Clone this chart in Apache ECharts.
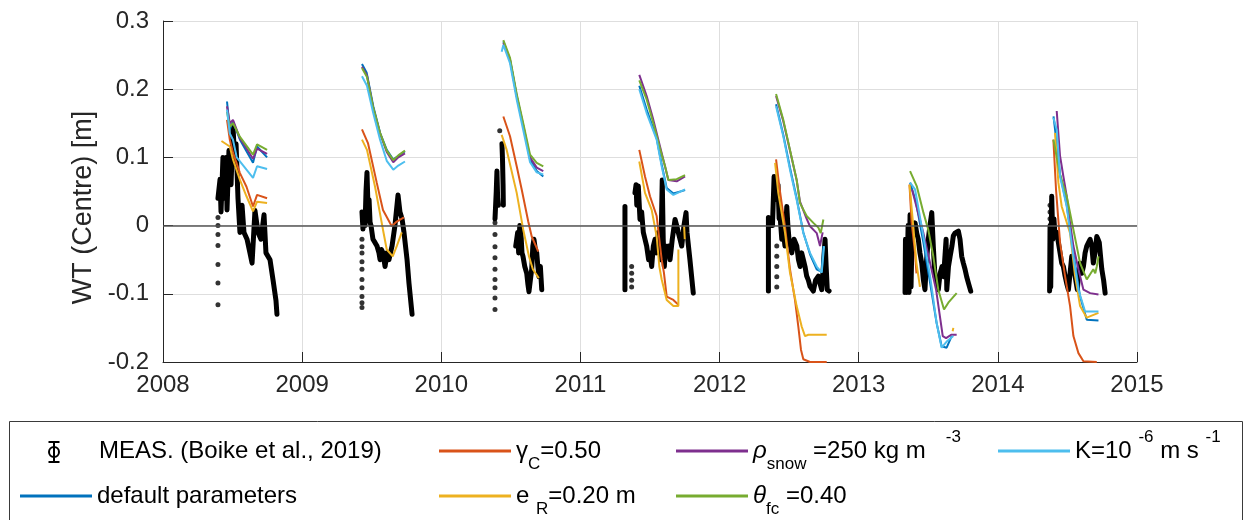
<!DOCTYPE html>
<html>
<head>
<meta charset="utf-8">
<script src="https://cdn.jsdelivr.net/npm/echarts@6/dist/echarts.min.js"></script>
<style>
  html, body { margin: 0; padding: 0; background: #fff; }
  #plot { width: 1247px; height: 520px; }
</style>
</head>
<body>
<div id="plot"></div>
<script>
// WT (Centre) per melt season, [decimal year, m]; each inner list is one continuous run
const measRuns = [
  [[2008.395,0.04],[2008.410,0.068],[2008.417,0.02],[2008.431,0.10],[2008.438,0.04],[2008.453,0.10],[2008.460,0.023],[2008.474,0.11],[2008.489,0.06],[2008.503,0.145],[2008.517,0.09],[2008.525,0.12],[2008.539,0.04],[2008.553,-0.01],[2008.568,0.03],[2008.582,-0.01],[2008.604,-0.02],[2008.625,-0.04],[2008.640,-0.055],[2008.661,0.022],[2008.683,-0.01],[2008.704,-0.02],[2008.726,0.016],[2008.740,-0.04],[2008.769,-0.05],[2008.791,-0.08],[2008.812,-0.11],[2008.819,-0.13]],
  [[2009.430,0.02],[2009.437,-0.005],[2009.445,0.02],[2009.452,0.0],[2009.459,0.05],[2009.466,0.078],[2009.473,0.03],[2009.481,0.038],[2009.488,0.005],[2009.495,0.0],[2009.509,-0.02],[2009.524,-0.025],[2009.538,-0.03],[2009.552,-0.04],[2009.560,-0.05],[2009.570,-0.035],[2009.581,-0.04],[2009.596,-0.06],[2009.610,-0.04],[2009.624,-0.05],[2009.646,-0.03],[2009.660,-0.01],[2009.667,0.0],[2009.689,0.045],[2009.703,0.02],[2009.718,0.01],[2009.732,-0.01],[2009.754,-0.05],[2009.768,-0.085],[2009.790,-0.13]],
  [[2010.386,0.01],[2010.395,0.05],[2010.400,0.08],[2010.405,0.04],[2010.410,0.03]],
  [[2010.436,0.12],[2010.440,0.097],[2010.444,0.06],[2010.446,0.03]],
  [[2010.535,-0.03],[2010.542,-0.02],[2010.549,-0.01],[2010.556,-0.04],[2010.564,0.0],[2010.571,-0.006],[2010.580,-0.04],[2010.587,-0.045],[2010.600,-0.06],[2010.614,-0.07],[2010.622,-0.085],[2010.630,-0.097],[2010.640,-0.08],[2010.650,-0.064],[2010.658,-0.03],[2010.666,-0.02],[2010.676,-0.035],[2010.686,-0.04],[2010.694,-0.06],[2010.702,-0.075],[2010.712,-0.06],[2010.722,-0.094]],
  [[2011.320,0.028],[2011.320,-0.094]],
  [[2011.392,0.048],[2011.400,0.06],[2011.405,0.03],[2011.416,0.058],[2011.428,0.009],[2011.440,0.02],[2011.452,-0.01],[2011.464,-0.02],[2011.476,-0.03],[2011.490,-0.05],[2011.500,-0.04],[2011.512,-0.06],[2011.524,-0.03],[2011.536,-0.02],[2011.548,-0.04],[2011.560,-0.01],[2011.570,-0.03],[2011.577,-0.05],[2011.582,0.0],[2011.588,0.067],[2011.595,-0.02],[2011.603,-0.06],[2011.612,-0.03],[2011.622,-0.04],[2011.634,-0.03],[2011.644,-0.05],[2011.660,-0.02],[2011.680,0.009],[2011.692,0.0],[2011.703,-0.01],[2011.716,-0.02],[2011.728,-0.03],[2011.744,0.0],[2011.759,0.019],[2011.766,-0.01],[2011.787,-0.05],[2011.811,-0.099]],
  [[2012.351,0.012],[2012.351,-0.096]],
  [[2012.380,0.0],[2012.392,0.072],[2012.400,0.05],[2012.411,0.038],[2012.420,0.06],[2012.428,0.01],[2012.435,0.014],[2012.447,-0.02],[2012.459,-0.01],[2012.470,-0.03],[2012.483,0.028],[2012.491,0.0],[2012.499,-0.02],[2012.510,-0.03],[2012.519,-0.04],[2012.535,-0.02],[2012.555,-0.03],[2012.567,-0.05],[2012.579,-0.06],[2012.590,-0.04],[2012.602,-0.05],[2012.614,-0.06],[2012.626,-0.074],[2012.638,-0.08],[2012.650,-0.089],[2012.662,-0.09],[2012.674,-0.096],[2012.690,-0.08],[2012.710,-0.074],[2012.722,-0.085],[2012.734,-0.094],[2012.746,-0.06],[2012.758,-0.02],[2012.766,-0.06],[2012.774,-0.094],[2012.787,-0.096]],
  [[2013.333,-0.098],[2013.336,-0.02],[2013.345,-0.098],[2013.355,0.0],[2013.362,-0.098],[2013.369,0.016],[2013.376,-0.09],[2013.383,-0.02],[2013.395,-0.01],[2013.405,0.004],[2013.417,-0.011],[2013.428,-0.02],[2013.440,-0.04],[2013.453,-0.055],[2013.465,-0.08],[2013.476,-0.094],[2013.488,-0.05],[2013.500,-0.02],[2013.512,0.0],[2013.525,0.019],[2013.536,-0.03],[2013.548,-0.074],[2013.560,-0.08],[2013.572,-0.094],[2013.585,-0.07],[2013.599,-0.06],[2013.610,-0.075],[2013.628,-0.02],[2013.633,-0.094],[2013.645,-0.06],[2013.657,-0.045],[2013.670,-0.03],[2013.680,-0.015],[2013.692,-0.011],[2013.704,-0.01],[2013.716,-0.008],[2013.728,-0.02],[2013.740,-0.045],[2013.752,-0.055],[2013.764,-0.064],[2013.776,-0.075],[2013.788,-0.084],[2013.805,-0.096]],
  [[2014.372,-0.096],[2014.375,0.0],[2014.380,-0.09],[2014.387,0.043],[2014.395,-0.02],[2014.403,0.01],[2014.411,-0.016],[2014.423,-0.01],[2014.435,-0.025],[2014.447,-0.04],[2014.459,-0.055],[2014.471,-0.06],[2014.483,-0.074],[2014.495,-0.085],[2014.507,-0.094],[2014.519,-0.07],[2014.531,-0.045],[2014.543,-0.06],[2014.555,-0.074],[2014.571,-0.094],[2014.580,-0.07],[2014.591,-0.055],[2014.603,-0.07],[2014.615,-0.06],[2014.627,-0.04],[2014.639,-0.03],[2014.651,-0.025],[2014.663,-0.02],[2014.675,-0.03],[2014.686,-0.055],[2014.698,-0.04],[2014.711,-0.016],[2014.720,-0.02],[2014.729,-0.025],[2014.738,-0.045],[2014.747,-0.064],[2014.760,-0.08],[2014.771,-0.099]]
];

// sparse early-season readings drawn as separate dots
const measDots = [
  [2008.395,-0.116],[2008.395,-0.084],[2008.395,-0.057],[2008.395,-0.029],[2008.395,-0.013],[2008.395,0.0],[2008.395,0.012],
  [2009.430,-0.12],[2009.430,-0.113],[2009.430,-0.104],[2009.430,-0.091],[2009.430,-0.079],[2009.430,-0.064],[2009.430,-0.053],[2009.430,-0.04],[2009.430,-0.031],[2009.430,-0.02],
  [2010.386,-0.123],[2010.386,-0.106],[2010.386,-0.091],[2010.386,-0.079],[2010.386,-0.064],[2010.386,-0.047],[2010.386,-0.031],[2010.386,-0.013],[2010.386,0.004],[2010.420,0.139],
  [2011.368,-0.06],[2011.368,-0.07],[2011.368,-0.08],[2011.368,-0.09],
  [2012.411,-0.03],[2012.411,-0.045],[2012.411,-0.06],[2012.411,-0.075],[2012.411,-0.09],
  [2014.375,0.03],[2014.375,0.02],[2014.375,0.01]
];

const defaultRuns = [
  [[2008.46,0.182],[2008.48,0.141],[2008.503,0.153],[2008.553,0.126],[2008.647,0.092],[2008.676,0.116],[2008.748,0.10]],
  [[2009.430,0.237],[2009.464,0.224],[2009.511,0.175],[2009.560,0.136],[2009.608,0.111],[2009.655,0.097],[2009.691,0.102],[2009.739,0.109]],
  [[2010.446,0.27],[2010.494,0.243],[2010.542,0.19],[2010.589,0.146],[2010.638,0.097],[2010.686,0.08],[2010.733,0.072]],
  [[2011.423,0.205],[2011.476,0.17],[2011.548,0.128],[2011.584,0.09],[2011.620,0.055],[2011.668,0.047],[2011.752,0.052]],
  [[2012.406,0.178],[2012.458,0.133],[2012.506,0.085],[2012.554,0.04],[2012.602,-0.01],[2012.650,-0.042],[2012.698,-0.064],[2012.734,-0.068],[2012.746,-0.03]],
  [[2013.369,0.063],[2013.411,0.035],[2013.465,-0.025],[2013.513,-0.084],[2013.560,-0.143],[2013.596,-0.177],[2013.632,-0.179],[2013.668,-0.162]],
  [[2014.400,0.16],[2014.411,0.141],[2014.447,0.075],[2014.495,0.03],[2014.543,-0.04],[2014.591,-0.104],[2014.639,-0.138],[2014.723,-0.139]]
];

const gammaRuns = [
  [[2008.46,0.155],[2008.48,0.126],[2008.503,0.107],[2008.553,0.077],[2008.60,0.057],[2008.647,0.028],[2008.676,0.045],[2008.748,0.04]],
  [[2009.430,0.141],[2009.473,0.121],[2009.536,0.063],[2009.581,0.023],[2009.644,-0.001],[2009.680,0.006],[2009.732,0.012]],
  [[2010.446,0.16],[2010.494,0.131],[2010.542,0.087],[2010.578,0.053],[2010.625,0.006],[2010.650,-0.016],[2010.697,-0.038]],
  [[2011.423,0.111],[2011.464,0.072],[2011.500,0.043],[2011.548,0.014],[2011.567,-0.02],[2011.584,-0.05],[2011.600,-0.069],[2011.620,-0.104],[2011.668,-0.109],[2011.704,-0.116]],
  [[2012.406,0.097],[2012.429,0.058],[2012.470,-0.001],[2012.506,-0.064],[2012.542,-0.109],[2012.566,-0.148],[2012.585,-0.182],[2012.602,-0.196],[2012.650,-0.2],[2012.770,-0.2]],
  [[2013.365,0.06],[2013.380,0.005],[2013.405,-0.04],[2013.415,-0.07]],
  [[2014.399,0.126],[2014.418,0.053],[2014.447,-0.025],[2014.483,-0.074],[2014.519,-0.118],[2014.543,-0.162],[2014.579,-0.187],[2014.615,-0.199],[2014.711,-0.2]]
];

const eRRuns = [
  [[2008.42,0.124],[2008.48,0.116],[2008.503,0.097],[2008.553,0.067],[2008.60,0.043],[2008.647,0.021],[2008.676,0.035],[2008.748,0.033]],
  [[2009.430,0.126],[2009.466,0.111],[2009.524,0.057],[2009.581,-0.006],[2009.608,-0.035],[2009.651,-0.045],[2009.680,-0.03],[2009.716,-0.01]],
  [[2010.434,0.133],[2010.470,0.111],[2010.542,0.048],[2010.589,-0.006],[2010.630,-0.045],[2010.658,-0.064],[2010.701,-0.077]],
  [[2011.423,0.094],[2011.464,0.048],[2011.512,0.023],[2011.548,-0.016],[2011.567,-0.06],[2011.584,-0.079],[2011.620,-0.109],[2011.668,-0.118],[2011.704,-0.118],[2011.704,-0.035]],
  [[2011.745,0.0],[2011.750,-0.02]],
  [[2012.399,0.092],[2012.422,0.048],[2012.470,-0.01],[2012.506,-0.069],[2012.554,-0.118],[2012.590,-0.148],[2012.614,-0.162],[2012.638,-0.16],[2012.770,-0.16]],
  [[2013.365,0.06],[2013.390,0.004],[2013.415,-0.055],[2013.440,-0.09]],
  [[2013.675,-0.155],[2013.680,-0.15]],
  [[2014.411,0.136],[2014.435,0.063],[2014.459,0.028],[2014.519,-0.011],[2014.555,-0.074],[2014.591,-0.118],[2014.639,-0.135],[2014.723,-0.128]]
];

const rhoRuns = [
  [[2008.46,0.175],[2008.48,0.15],[2008.503,0.155],[2008.553,0.128],[2008.647,0.098],[2008.676,0.113],[2008.748,0.105]],
  [[2009.430,0.233],[2009.466,0.22],[2009.511,0.172],[2009.560,0.135],[2009.608,0.108],[2009.655,0.093],[2009.691,0.1],[2009.739,0.106]],
  [[2010.446,0.268],[2010.494,0.243],[2010.542,0.19],[2010.589,0.147],[2010.638,0.1],[2010.686,0.085],[2010.733,0.08]],
  [[2011.423,0.221],[2011.476,0.19],[2011.524,0.155],[2011.572,0.116],[2011.608,0.087],[2011.632,0.067],[2011.692,0.065],[2011.752,0.072]],
  [[2012.406,0.19],[2012.458,0.153],[2012.506,0.11],[2012.554,0.067],[2012.578,0.035],[2012.626,0.01],[2012.650,-0.001],[2012.698,-0.011],[2012.722,-0.03],[2012.741,-0.01]],
  [[2013.383,0.053],[2013.465,-0.011],[2013.556,-0.094],[2013.604,-0.162],[2013.628,-0.165],[2013.664,-0.16],[2013.704,-0.16]],
  [[2014.423,0.168],[2014.447,0.102],[2014.471,0.072],[2014.495,0.043],[2014.519,0.004],[2014.543,-0.03],[2014.579,-0.064],[2014.615,-0.094],[2014.663,-0.099],[2014.723,-0.101]]
];

const thetaRuns = [
  [[2008.46,0.167],[2008.48,0.145],[2008.503,0.15],[2008.553,0.13],[2008.647,0.104],[2008.676,0.119],[2008.748,0.111]],
  [[2009.430,0.231],[2009.466,0.218],[2009.511,0.173],[2009.560,0.136],[2009.608,0.11],[2009.655,0.096],[2009.691,0.103],[2009.739,0.11]],
  [[2010.446,0.272],[2010.494,0.246],[2010.542,0.193],[2010.589,0.15],[2010.638,0.104],[2010.686,0.092],[2010.733,0.087]],
  [[2011.423,0.213],[2011.476,0.185],[2011.524,0.15],[2011.572,0.113],[2011.608,0.087],[2011.632,0.067],[2011.692,0.068],[2011.752,0.074]],
  [[2012.406,0.193],[2012.458,0.155],[2012.506,0.111],[2012.554,0.067],[2012.578,0.033],[2012.626,0.014],[2012.674,0.004],[2012.710,-0.003],[2012.727,-0.011],[2012.746,0.009]],
  [[2013.369,0.08],[2013.417,0.058],[2013.465,0.019],[2013.500,-0.006],[2013.536,-0.045],[2013.572,-0.094],[2013.613,-0.123],[2013.644,-0.113],[2013.704,-0.099]],
  [[2014.399,0.126],[2014.447,0.075],[2014.495,0.043],[2014.543,-0.006],[2014.591,-0.055],[2014.639,-0.079],[2014.686,-0.064],[2014.700,-0.07],[2014.711,-0.06],[2014.723,-0.045]]
];

const kRuns = [
  [[2008.46,0.17],[2008.48,0.135],[2008.503,0.126],[2008.53,0.1],[2008.647,0.07],[2008.676,0.087],[2008.748,0.083]],
  [[2009.430,0.219],[2009.466,0.205],[2009.511,0.165],[2009.560,0.126],[2009.608,0.095],[2009.655,0.082],[2009.691,0.088],[2009.739,0.094]],
  [[2010.434,0.255],[2010.446,0.265],[2010.494,0.238],[2010.542,0.185],[2010.589,0.14],[2010.638,0.093],[2010.686,0.078],[2010.733,0.075]],
  [[2011.423,0.2],[2011.476,0.165],[2011.548,0.126],[2011.584,0.087],[2011.620,0.053],[2011.668,0.045],[2011.752,0.053]],
  [[2012.406,0.175],[2012.458,0.131],[2012.506,0.082],[2012.554,0.038],[2012.602,-0.011],[2012.650,-0.04],[2012.698,-0.06],[2012.734,-0.069],[2012.751,-0.03]],
  [[2013.369,0.063],[2013.405,0.053],[2013.465,-0.016],[2013.513,-0.074],[2013.560,-0.143],[2013.596,-0.179],[2013.632,-0.17],[2013.680,-0.162]],
  [[2014.399,0.158],[2014.423,0.141],[2014.447,0.072],[2014.495,0.028],[2014.543,-0.045],[2014.579,-0.094],[2014.627,-0.126],[2014.723,-0.126]]
];

const zeroLevel = 0;

const FONT = "'Liberation Sans', Arial, Helvetica, sans-serif";

// join the runs into one line, with a gap after each run
function joinRuns(runs) {
  const out = [];
  runs.forEach((run) => {
    run.forEach((p) => out.push(p));
    out.push([run[run.length - 1][0], null]);
  });
  return out;
}

const MEAS = "MEAS. (Boike et al., 2019)";
const models = [
  { name: "default parameters", runs: defaultRuns, color: "#0072BD", label: "default parameters" },
  { name: "gammaC", runs: gammaRuns, color: "#D95319", label: "γ{sub|C}=0.50" },
  { name: "eR", runs: eRRuns, color: "#EDB120", label: "e {sub|R}=0.20 m" },
  { name: "rhoSnow", runs: rhoRuns, color: "#7E2F8E", label: "{it|ρ}{sub|snow} =250 kg m   {sup|-3}" },
  { name: "thetaFc", runs: thetaRuns, color: "#77AC30", label: "{it|θ}{sub|fc} =0.40" },
  { name: "K", runs: kRuns, color: "#4DBEEE", label: "K=10 {sup|-6} m s {sup|-1}" },
];
const labelOf = {};
models.forEach((m) => (labelOf[m.name] = m.label));
labelOf[MEAS] = MEAS;

const legendText = {
  fontFamily: FONT,
  fontSize: 24,
  color: "#000",
  lineHeight: 44,
  rich: {
    sub: { fontFamily: FONT, fontSize: 17, lineHeight: 17, verticalAlign: "bottom", color: "#000" },
    sup: { fontFamily: FONT, fontSize: 17, lineHeight: 17, verticalAlign: "top", color: "#000" },
    it: { fontFamily: FONT, fontSize: 24, fontStyle: "italic", lineHeight: 44, color: "#000" },
  },
};

// one legend block per entry, placed like the boxed legend of the figure
const legendSlots = [
  { name: MEAS, left: 22, top: 429 },
  { name: "default parameters", left: 20, top: 474 },
  { name: "gammaC", left: 439, top: 429 },
  { name: "eR", left: 439, top: 474 },
  { name: "rhoSnow", left: 676, top: 429 },
  { name: "thetaFc", left: 676, top: 474 },
  { name: "K", left: 998, top: 429 },
];

const chart = echarts.init(document.getElementById("plot"), null, { renderer: "canvas" });

const series = [
  {
    name: MEAS,
    type: "line",
    data: joinRuns(measRuns),
    showSymbol: false,
    connectNulls: false,
    lineStyle: { color: "#000", width: 5, join: "round", cap: "round" },
    itemStyle: { color: "#000" },
    z: 2,
    markLine: {
      silent: true,
      symbol: "none",
      label: { show: false },
      lineStyle: { color: "#555", width: 1.5, type: "solid" },
      data: [{ yAxis: zeroLevel }],
    },
  },
  {
    name: MEAS,
    type: "scatter",
    data: measDots,
    symbolSize: 5,
    itemStyle: { color: "#000" },
    z: 2,
  },
];
models.forEach((m) => {
  series.push({
    name: m.name,
    type: "line",
    data: joinRuns(m.runs),
    showSymbol: false,
    connectNulls: false,
    lineStyle: { color: m.color, width: 2 },
    itemStyle: { color: m.color },
    z: 3,
  });
});

const option = {
  backgroundColor: "#fff",
  animation: false,
  grid: { left: 163, right: 110, top: 21, bottom: 158, containLabel: false },
  legend: legendSlots.map((s) => ({
    data: [s.name],
    left: s.left,
    top: s.top,
    padding: 0,
    icon: "rect",
    itemWidth: 72,
    itemHeight: 3,
    selectedMode: false,
    itemStyle: s.name === MEAS ? { opacity: 0 } : {},
    textStyle: legendText,
    formatter: (name) => labelOf[name],
  })),
  xAxis: {
    type: "value",
    min: 2008,
    max: 2015,
    interval: 1,
    axisLine: { onZero: false, lineStyle: { color: "#262626", width: 1 } },
    axisTick: { inside: true, length: 10, lineStyle: { color: "#262626" } },
    axisLabel: {
      margin: 11,
      fontFamily: FONT,
      fontSize: 24,
      color: "#262626",
      formatter: (v) => String(v),
    },
    splitLine: { show: true, lineStyle: { color: "#dedede", width: 1 } },
  },
  yAxis: {
    type: "value",
    min: -0.2,
    max: 0.3,
    interval: 0.1,
    name: "WT (Centre) [m]",
    nameLocation: "middle",
    nameGap: 64,
    nameTextStyle: { fontFamily: FONT, fontSize: 27, color: "#262626", padding: [0, 32, 0, 0] },
    axisLine: { show: true, onZero: false, lineStyle: { color: "#262626", width: 1 } },
    axisTick: { show: true, inside: true, length: 10, lineStyle: { color: "#262626" } },
    axisLabel: {
      margin: 14,
      fontFamily: FONT,
      fontSize: 24,
      color: "#262626",
      formatter: (v) => String(+v.toFixed(1)),
    },
    splitLine: { show: true, lineStyle: { color: "#dedede", width: 1 } },
  },
  graphic: [
    {
      type: "rect",
      silent: true,
      shape: { x: 9.5, y: 421.5, width: 1233, height: 120 },
      style: { fill: "none", stroke: "#3a3a3a", lineWidth: 1 },
    },
    {
      // error-bar glyph of the measurement entry
      type: "group",
      silent: true,
      children: [
        { type: "line", shape: { x1: 48.5, y1: 442, x2: 59.5, y2: 442 }, style: { stroke: "#000", lineWidth: 2 } },
        { type: "line", shape: { x1: 48.5, y1: 462, x2: 59.5, y2: 462 }, style: { stroke: "#000", lineWidth: 2 } },
        { type: "line", shape: { x1: 54, y1: 442, x2: 54, y2: 462 }, style: { stroke: "#000", lineWidth: 2 } },
        { type: "circle", shape: { cx: 54, cy: 452, r: 5 }, style: { fill: "none", stroke: "#000", lineWidth: 2 } },
      ],
    },
  ],
  series: series,
};

chart.setOption(option);
</script>
</body>
</html>
